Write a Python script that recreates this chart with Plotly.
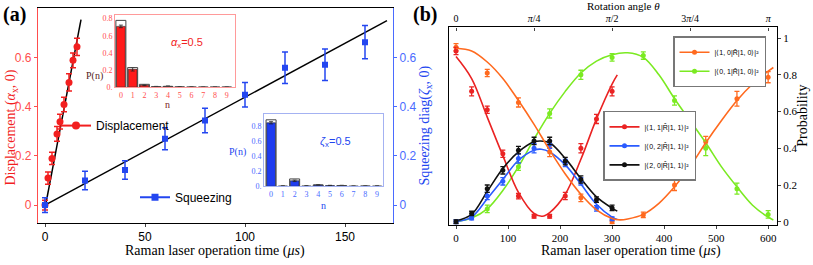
import plotly.graph_objects as go

W, H = 813, 265
def px(x): return x / W
def py(y): return 1 - y / H

RED = "#F21F1F"
RED_AX = "#FF4D4D"
BLUE = "#2346F0"
BLUE_AX = "#4A6BFF"
ORANGE = "#FF6A1F"
GREEN = "#7BEA22"
BRED = "#EA2323"
BBLUE = "#2A5BFF"
SERIF = "Liberation Serif"
SANS = "Liberation Sans"

# ---------------- Panel (a) data ----------------
disp_t = [0, 1.5, 3.5, 6, 7.5, 9.5, 12, 14, 16]
disp_val = [0.0, 0.11, 0.19, 0.29, 0.34, 0.41, 0.50, 0.59, 0.645]
disp_err = [0.02, 0.025, 0.025, 0.03, 0.03, 0.03, 0.035, 0.03, 0.035]
disp_fit_t = [0.3, 18.0]
disp_fit_val = [0.0, 0.756]

sq_t = [0, 20, 40, 60, 80, 100, 120, 140, 160]
sq_val = [0.0, 0.10, 0.143, 0.27, 0.345, 0.45, 0.56, 0.572, 0.664]
sq_err = [0.03, 0.038, 0.038, 0.045, 0.05, 0.05, 0.064, 0.064, 0.068]
sq_fit_t = [0, 171]
sq_fit_val = [0.0, 0.752]

# insets: photon-number distributions
n_levels = [0, 1, 2, 3, 4, 5, 6, 7, 8, 9]
coh_meas = [0.71, 0.21, 0.025, 0.008, 0.012, 0.005, 0.003, 0.002, 0.002, 0.002]
coh_err = [0.015, 0.02, 0.005, 0.003, 0.004, 0.002, 0.002, 0.002, 0.002, 0.002]
coh_theory = [0.78, 0.23, 0.035, 0.006, 0.01, 0.004, 0.002, 0.002, 0.002, 0.002]
sqz_meas = [0.85, 0.005, 0.075, 0.006, 0.02, 0.012, 0.012, 0.004, 0.005, 0.005]
sqz_err = [0.015, 0.003, 0.01, 0.003, 0.004, 0.003, 0.003, 0.002, 0.002, 0.002]
sqz_theory = [0.89, 0.0, 0.10, 0.0, 0.02, 0.0, 0.01, 0.0, 0.004, 0.0]

# ---------------- Panel (b) data ----------------
# |<1,0|R|1,0>|^2 (orange)
p10_t = [0, 60, 120, 180, 240, 300, 360, 420, 480, 540, 600]
p10_val = [0.95, 0.81, 0.65, 0.38, 0.13, 0.0, 0.037, 0.20, 0.435, 0.67, 0.787]
p10_err = [0.02, 0.02, 0.025, 0.025, 0.02, 0.01, 0.015, 0.03, 0.03, 0.04, 0.03]
p10_fit_t = [0, 30, 60, 90, 120, 150, 180, 210, 240, 270, 300, 315, 330, 360, 390, 420, 450, 480, 510, 540, 570, 600, 610]
p10_fit = [0.945, 0.93, 0.87, 0.78, 0.66, 0.53, 0.39, 0.26, 0.15, 0.065, 0.018, 0.01, 0.015, 0.04, 0.10, 0.19, 0.30, 0.43, 0.55, 0.66, 0.75, 0.82, 0.84]

# |<0,1|R|1,0>|^2 (green)
p01_t = [60, 120, 180, 240, 300, 360, 420, 480, 540, 600]
p01_val = [0.07, 0.30, 0.59, 0.80, 0.895, 0.905, 0.66, 0.40, 0.18, 0.04]
p01_err = [0.02, 0.02, 0.025, 0.025, 0.02, 0.02, 0.025, 0.04, 0.03, 0.02]
p01_fit_t = [0, 30, 60, 90, 120, 150, 180, 210, 240, 270, 300, 330, 360, 390, 420, 450, 480, 510, 540, 570, 600, 610]
p01_fit = [0.0, 0.02, 0.07, 0.17, 0.30, 0.45, 0.59, 0.71, 0.81, 0.875, 0.91, 0.92, 0.895, 0.80, 0.67, 0.55, 0.43, 0.30, 0.19, 0.09, 0.025, 0.01]

# |<1,1|R|1,1>|^2 (red)
p11_t = [0, 30, 60, 90, 120, 150, 180, 210, 240, 270, 300]
p11_val = [0.93, 0.71, 0.61, 0.37, 0.14, 0.03, 0.03, 0.14, 0.40, 0.56, 0.71]
p11_err = [0.02, 0.025, 0.02, 0.02, 0.015, 0.01, 0.01, 0.02, 0.025, 0.025, 0.025]
p11_fit_t = [0, 30, 60, 90, 120, 150, 166, 180, 210, 240, 270, 300, 310]
p11_fit = [0.90, 0.78, 0.57, 0.36, 0.16, 0.045, 0.03, 0.05, 0.15, 0.34, 0.56, 0.75, 0.80]

# |<0,2|R|1,1>|^2 (blue)
p02_t = [0, 30, 60, 90, 120, 150, 180, 210, 240, 270, 300]
p02_val = [0.0, 0.02, 0.14, 0.22, 0.345, 0.40, 0.42, 0.32, 0.22, 0.073, 0.016]
p02_err = [0.01, 0.01, 0.02, 0.02, 0.025, 0.025, 0.02, 0.02, 0.02, 0.015, 0.01]
p02_fit_t = [0, 30, 60, 90, 120, 150, 164, 180, 210, 240, 270, 300, 310]
p02_fit = [0.0, 0.025, 0.125, 0.23, 0.335, 0.39, 0.395, 0.38, 0.31, 0.205, 0.095, 0.025, 0.012]

# |<2,0|R|1,1>|^2 (black)
p20_t = [0, 30, 60, 90, 120, 150, 180, 210, 240, 270, 300]
p20_val = [0.0, 0.045, 0.18, 0.28, 0.39, 0.44, 0.44, 0.33, 0.23, 0.12, 0.075]
p20_err = [0.01, 0.012, 0.02, 0.02, 0.02, 0.02, 0.02, 0.02, 0.02, 0.015, 0.015]
p20_fit_t = [0, 30, 60, 90, 120, 150, 162, 180, 210, 240, 270, 300, 310]
p20_fit = [0.005, 0.04, 0.165, 0.29, 0.38, 0.435, 0.44, 0.43, 0.345, 0.235, 0.135, 0.074, 0.058]

# top axis: rotation angle labels at operation times
theta_tick_t = [0, 150, 300, 450, 600]
theta_tick_text = ["0", "<i>π</i>/4", "<i>π</i>/2", "3<i>π</i>/4", "<i>π</i>"]

fig = go.Figure()

def err(arr, color, w=3, th=1.2):
    return dict(type="data", array=arr, color=color, thickness=th, width=w)

# ---- panel (a) ----
fig.add_scatter(x=disp_fit_t, y=disp_fit_val, mode="lines", line=dict(color="black", width=1.5),
                xaxis="x", yaxis="y", showlegend=False, hoverinfo="skip")
fig.add_scatter(x=sq_fit_t, y=sq_fit_val, mode="lines", line=dict(color="black", width=1.5),
                xaxis="x", yaxis="y", showlegend=False, hoverinfo="skip")
fig.add_scatter(x=disp_t, y=disp_val, mode="markers", marker=dict(color=RED, size=7, symbol="circle"),
                error_y=err(disp_err, RED, 3, 1.5), xaxis="x", yaxis="y", showlegend=False)
fig.add_scatter(x=sq_t, y=sq_val, mode="markers", marker=dict(color=BLUE, size=6, symbol="square"),
                error_y=err(sq_err, BLUE, 3, 1.5), xaxis="x", yaxis="y2", showlegend=False)
fig.add_scatter(x=[None], y=[None], mode="lines+markers", name="Displacement",
                marker=dict(color=RED, size=8, symbol="circle"), line=dict(color=RED, width=2),
                xaxis="x", yaxis="y", legend="legend")
fig.add_scatter(x=[None], y=[None], mode="lines+markers", name="Squeezing",
                marker=dict(color=BLUE, size=7, symbol="square"), line=dict(color=BLUE, width=2),
                xaxis="x", yaxis="y", legend="legend2")

# ---- insets ----
fig.add_bar(x=n_levels, y=coh_meas, width=0.75, marker=dict(color="#FF1A1A", line=dict(color="#222", width=0.6)),
            error_y=err(coh_err, "#222", 2, 0.8), xaxis="x5", yaxis="y5", showlegend=False)
fig.add_bar(x=n_levels, y=coh_theory, width=0.85, marker=dict(color="rgba(0,0,0,0)", line=dict(color="#444", width=1)),
            xaxis="x5", yaxis="y5", showlegend=False)
fig.add_bar(x=n_levels, y=sqz_meas, width=0.75, marker=dict(color="#1E3CF0", line=dict(color="#222", width=0.6)),
            error_y=err(sqz_err, "#222", 2, 0.8), xaxis="x6", yaxis="y6", showlegend=False)
fig.add_bar(x=n_levels, y=sqz_theory, width=0.85, marker=dict(color="rgba(0,0,0,0)", line=dict(color="#444", width=1)),
            xaxis="x6", yaxis="y6", showlegend=False)

# ---- panel (b) ----
series_b = [
    (p10_t, p10_val, p10_err, p10_fit_t, p10_fit, ORANGE, "|⟨1, 0|R\u0302|1, 0⟩|²", "legend3"),
    (p01_t, p01_val, p01_err, p01_fit_t, p01_fit, GREEN, "|⟨0, 1|R\u0302|1, 0⟩|²", "legend3"),
    (p11_t, p11_val, p11_err, p11_fit_t, p11_fit, BRED, "|⟨1, 1|R\u0302|1, 1⟩|²", "legend4"),
    (p02_t, p02_val, p02_err, p02_fit_t, p02_fit, BBLUE, "|⟨0, 2|R\u0302|1, 1⟩|²", "legend4"),
    (p20_t, p20_val, p20_err, p20_fit_t, p20_fit, "#111111", "|⟨2, 0|R\u0302|1, 1⟩|²", "legend4"),
]
for i, (t, v, e, ft, fv, c, name, lg) in enumerate(series_b):
    # the first fit curve is attached to the top (rotation angle) axis, which shares the same range
    fig.add_scatter(x=ft, y=fv, mode="lines", line=dict(color=c, width=1.6, shape="spline", smoothing=1.0),
                    xaxis="x4" if i == 0 else "x3", yaxis="y3", showlegend=False, hoverinfo="skip")
for t, v, e, ft, fv, c, name, lg in series_b:
    fig.add_scatter(x=t, y=v, mode="markers", marker=dict(color=c, size=5),
                    error_y=err(e, c, 2.5, 1.3), xaxis="x3", yaxis="y3", showlegend=False)
for t, v, e, ft, fv, c, name, lg in series_b:
    fig.add_scatter(x=[None], y=[None], mode="lines+markers", name=name,
                    marker=dict(color=c, size=5), line=dict(color=c, width=1.6),
                    xaxis="x3", yaxis="y3", legend=lg)

axis_common = dict(showgrid=False, zeroline=False, showline=True)

fig.update_layout(
    width=W, height=H, margin=dict(l=0, r=0, t=0, b=0),
    paper_bgcolor="white", plot_bgcolor="white", barmode="overlay",
    xaxis=dict(domain=[px(38), px(393)], range=[-3.5, 174], anchor="y", tickvals=[0, 50, 100, 150],
               ticks="outside", ticklen=3, linecolor="black", linewidth=1.3, mirror=True,
               tickfont=dict(family=SANS, size=12, color="black"), **axis_common),
    yaxis=dict(domain=[py(227), py(8)], range=[-0.072, 0.804], anchor="x", tickvals=[0, 0.2, 0.4, 0.6],
               ticktext=["0", "0.2", "0.4", "0.6"], ticks="outside", ticklen=3, tickcolor=RED_AX,
               linecolor=RED_AX, linewidth=1.3, tickfont=dict(family=SANS, size=12, color=RED_AX), **axis_common),
    yaxis2=dict(overlaying="y", side="right", range=[-0.072, 0.804], anchor="x", tickvals=[0, 0.2, 0.4, 0.6],
                ticktext=["0", "0.2", "0.4", "0.6"], ticks="outside", ticklen=3, tickcolor=BLUE_AX,
                linecolor=BLUE_AX, linewidth=1.3, tickfont=dict(family=SANS, size=12, color=BLUE_AX), **axis_common),
    xaxis5=dict(domain=[px(115), px(235)], range=[-0.5, 9.7], anchor="y5", tickvals=n_levels,
                linecolor="#FF9A9A", linewidth=1, mirror=True, ticks="",
                tickfont=dict(family=SERIF, size=8, color=RED_AX), **axis_common),
    yaxis5=dict(domain=[py(89), py(15)], range=[0, 0.846], anchor="x5", tickvals=[0, 0.2, 0.4, 0.6, 0.8],
                ticktext=["0.", "0.2", "0.4", "0.6", "0.8"], linecolor="#FF9A9A", linewidth=1, mirror=True,
                ticks="", tickfont=dict(family=SERIF, size=8, color=RED_AX), **axis_common),
    xaxis6=dict(domain=[px(264), px(383)], range=[-0.6, 9.5], anchor="y6", tickvals=n_levels,
                linecolor="#A4B2F2", linewidth=1, mirror=True, ticks="",
                tickfont=dict(family=SERIF, size=8, color=BLUE_AX), **axis_common),
    yaxis6=dict(domain=[py(190), py(116)], range=[0, 0.97], anchor="x6", tickvals=[0, 0.2, 0.4, 0.6, 0.8],
                ticktext=["0.", "0.2", "0.4", "0.6", "0.8"], linecolor="#A4B2F2", linewidth=1, mirror=True,
                ticks="", tickfont=dict(family=SERIF, size=8, color=BLUE_AX), **axis_common),
    xaxis3=dict(domain=[px(449), px(777)], range=[-13.5, 617], anchor="y3", tickvals=[0, 100, 200, 300, 400, 500, 600],
                ticks="outside", ticklen=3, linecolor="black", linewidth=1.3,
                tickfont=dict(family=SERIF, size=11, color="black"), **axis_common),
    xaxis4=dict(overlaying="x3", side="top", range=[-13.5, 617], anchor="y3", tickvals=theta_tick_t,
                ticktext=theta_tick_text, ticks="inside", ticklen=3,
                linecolor="black", linewidth=1.3, tickfont=dict(family=SERIF, size=10, color="black"), **axis_common),
    yaxis3=dict(domain=[py(229), py(28)], range=[-0.016, 1.058], anchor="x3", side="right",
                tickvals=[0, 0.2, 0.4, 0.6, 0.8, 1.0], ticktext=["0", "0.2", "0.4", "0.6", "0.8", "1"],
                ticks="outside", ticklen=3, linecolor="black", linewidth=1.3, mirror=True,
                tickfont=dict(family=SERIF, size=11, color="black"), **axis_common),
    legend=dict(x=px(56), y=py(128), xanchor="left", yanchor="middle", bgcolor="rgba(0,0,0,0)",
                font=dict(family=SANS, size=12, color="black"), borderwidth=0),
    legend2=dict(x=px(135), y=py(201), xanchor="left", yanchor="middle", bgcolor="rgba(0,0,0,0)",
                 font=dict(family=SANS, size=12, color="black"), borderwidth=0),
    legend3=dict(x=px(673), y=py(37), xanchor="left", yanchor="top", bgcolor="white",
                 bordercolor="#777", borderwidth=1.5, font=dict(family=SANS, size=7, color="black"),
                 tracegroupgap=0),
    legend4=dict(x=px(603), y=py(113), xanchor="left", yanchor="top", bgcolor="white",
                 bordercolor="#777", borderwidth=1.5, font=dict(family=SANS, size=7, color="black"),
                 tracegroupgap=0),
)

def ann(text, x, y, size, color="black", family=SERIF, angle=0, **kw):
    fig.add_annotation(text=text, x=px(x), y=py(y), xref="paper", yref="paper", showarrow=False,
                       font=dict(family=family, size=size, color=color), textangle=angle,
                       xanchor="center", yanchor="middle", **kw)

ann("<b>(a)</b>", 14, 15, 20)
ann("<b>(b)</b>", 425, 15, 20)
ann("Displacement (<i>α</i><sub>x</sub>, 0)", 12, 130, 14, RED, angle=-90)
ann("Squeezing diag(<i>ζ</i><sub>x</sub>, 0)", 426, 128, 14, BLUE, angle=-90)
ann("Raman laser operation time (<i>μs</i>)", 215, 256, 14)
ann("Raman laser operation time (<i>μs</i>)", 631, 256, 14)
ann("Rotation angle <i>θ</i>", 623, 6, 11)
ann("Probability", 803, 118, 14, angle=-90)
ann("<i>α</i><sub>x</sub>=0.5", 187, 44, 11, RED, family=SANS)
ann("<i>ζ</i><sub>x</sub>=0.5", 335, 145, 11, BLUE, family=SANS)
ann("P(n)", 94, 77, 10, "#552222")
ann("n", 167, 107, 10, "#772222")
ann("P(n)", 237, 155, 10, BLUE)
ann("n", 323, 209, 10, BLUE)

fig.write_html("out.html", config={"displayModeBar": False},
               post_script="document.body.style.margin='0';document.body.style.overflow='hidden';")
